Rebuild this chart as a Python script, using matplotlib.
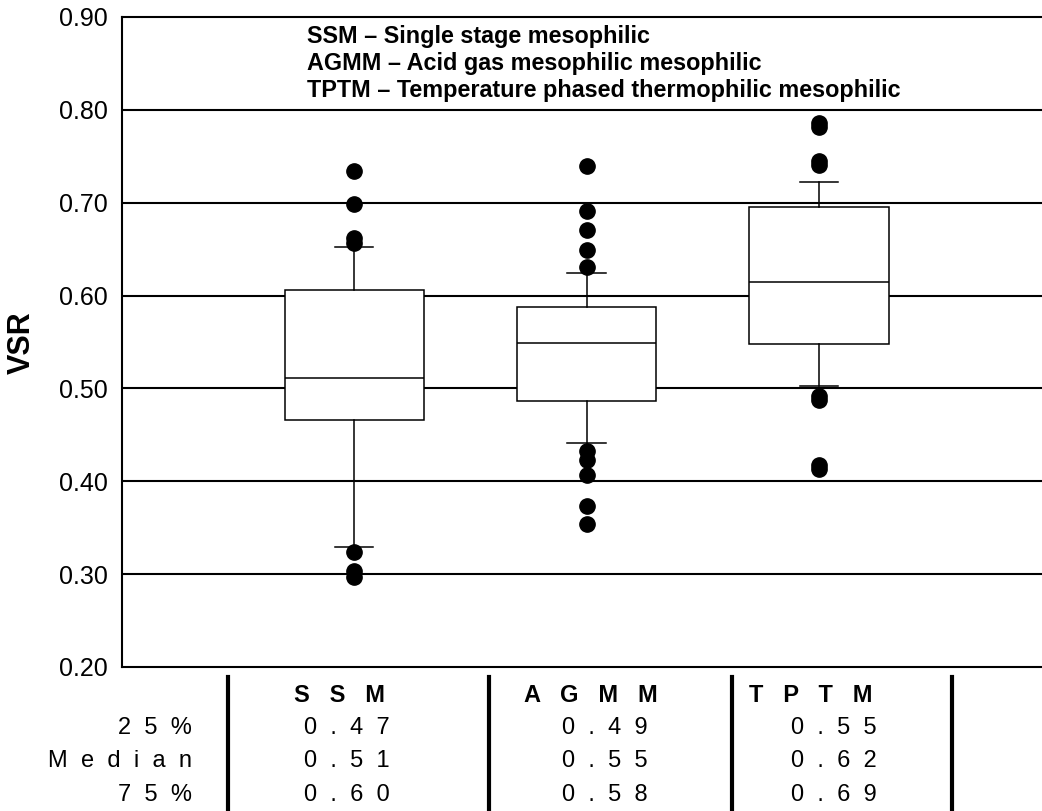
import matplotlib
matplotlib.use("Agg")
import matplotlib.pyplot as plt
from matplotlib.lines import Line2D

plt.rcParams['font.family'] = ['Liberation Sans', 'DejaVu Sans']

# data
groups = ["SSM", "AGMM", "TPTM"]
q1 = [0.466, 0.487, 0.548]
med = [0.511, 0.549, 0.615]
q3 = [0.606, 0.588, 0.695]
whislo = [0.329, 0.441, 0.503]
whishi = [0.652, 0.624, 0.722]
fliers_ssm = [0.734, 0.699, 0.662, 0.657, 0.324, 0.303, 0.297]
fliers_agmm = [0.740, 0.691, 0.671, 0.649, 0.631, 0.433, 0.423, 0.407, 0.373, 0.354]
fliers_tptm = [0.786, 0.782, 0.745, 0.741, 0.492, 0.488, 0.418, 0.413]
legend_lines = ["SSM \u2013 Single stage mesophilic",
                "AGMM \u2013 Acid gas mesophilic mesophilic",
                "TPTM \u2013 Temperature phased thermophilic mesophilic"]
row_labels = ["25%", "Median", "75%"]
table_q1 = [0.47, 0.49, 0.55]
table_med = [0.51, 0.55, 0.62]
table_q3 = [0.60, 0.58, 0.69]

W, H = 1042, 811
fig = plt.figure(figsize=(W / 100, H / 100), dpi=100)
ax = fig.add_axes([122 / W, 1 - 667 / H, 1 - 122 / W, (667 - 17) / H])

fliers = [fliers_ssm, fliers_agmm, fliers_tptm]
stats = []
for i in range(len(groups)):
    stats.append({"label": groups[i], "q1": q1[i], "med": med[i], "q3": q3[i],
                  "whislo": whislo[i], "whishi": whishi[i], "fliers": fliers[i]})

# grid lines (under the boxes)
for y in [0.3, 0.4, 0.5, 0.6, 0.7, 0.8]:
    ax.axhline(y, color="black", lw=1.5, zorder=1)

ax.bxp(stats, positions=[1, 2, 3], widths=0.6, capwidths=0.165, patch_artist=True,
       boxprops=dict(facecolor="white", edgecolor="black", lw=1.1),
       medianprops=dict(color="black", lw=1.1),
       whiskerprops=dict(color="black", lw=1.1),
       capprops=dict(color="black", lw=1.1),
       flierprops=dict(marker="o", markerfacecolor="black", markeredgecolor="black",
                       markersize=11, linestyle="none"),
       zorder=2)

ax.set_xlim(0, 3.96)
ax.set_ylim(0.2, 0.9)
ax.set_yticks([0.2, 0.3, 0.4, 0.5, 0.6, 0.7, 0.8, 0.9])
ax.set_yticklabels(["%.2f" % v for v in ax.get_yticks()])
ax.tick_params(axis="y", length=0, pad=10, labelsize=18)
ax.set_xticks([])
ax.spines["right"].set_visible(False)
for s in ["left", "top", "bottom"]:
    ax.spines[s].set_linewidth(1.5)

fig.text(22 / W, 1 - 343 / H, "VSR", rotation=90, fontsize=22, fontweight="bold",
         ha="center", va="center")

for i, line in enumerate(legend_lines):
    fig.text(307 / W, 1 - (37 + 26.5 * i) / H, line, fontsize=16.8, fontweight="bold",
             ha="left", va="center")


def spaced(s, n=2):
    return (" " * n).join(s)


# table under the plot
for x in [228, 489, 732, 952]:
    fig.add_artist(Line2D([x / W, x / W], [1 - 677 / H, 0], transform=fig.transFigure,
                          color="black", lw=3))

row_y = [728, 761, 795]
head_x = [339, 591, 811]
val_x = [347, 605, 834]
for i, g in enumerate(groups):
    fig.text(head_x[i] / W, 1 - 695 / H, spaced(g, 3), fontsize=17, fontweight="bold",
             ha="center", va="center")
for r, lab in enumerate(row_labels):
    fig.text(192 / W, 1 - row_y[r] / H, spaced(lab), fontsize=17, ha="right", va="center")
for r, vals in enumerate([table_q1, table_med, table_q3]):
    for i in range(len(groups)):
        fig.text(val_x[i] / W, 1 - row_y[r] / H, spaced("%.2f" % vals[i]), fontsize=17,
                 ha="center", va="center")

fig.savefig("out.png", dpi=100)
